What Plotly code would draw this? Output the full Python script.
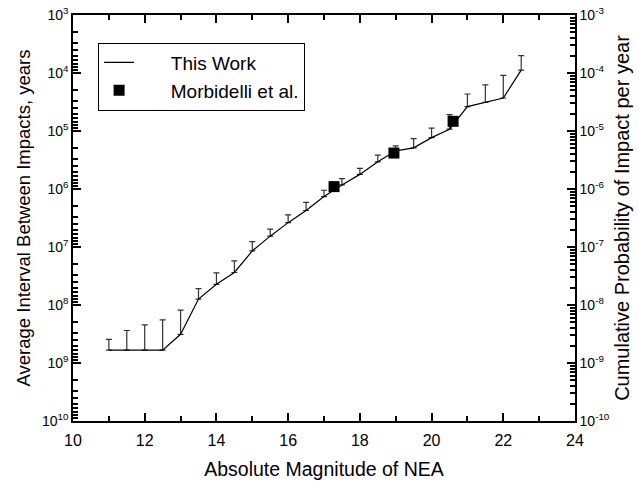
import math
import plotly.graph_objects as go

# Absolute magnitude bins
magnitude = [11, 11.5, 12, 12.5, 13, 13.5, 14, 14.5, 15, 15.5, 16, 16.5,
             17, 17.5, 18, 18.5, 19, 19.5, 20, 20.5, 21, 21.5, 22, 22.5]
# Average interval between impacts (years), "This Work"
interval = [6.0e8, 6.0e8, 6.0e8, 6.0e8, 3.2e8, 7.9e7, 4.4e7, 2.75e7, 1.17e7, 6.5e6,
            3.8e6, 2.35e6, 1.35e6, 8.5e5, 5.6e5, 3.4e5, 2.2e5, 1.95e5, 1.3e5, 9.3e4,
            3.8e4, 3.2e4, 2.7e4, 8.9e3]
# Upper end of the error bar (shorter interval), years
interval_err_end = [3.9e8, 2.75e8, 2.2e8, 1.8e8, 1.23e8, 5.2e7, 2.8e7, 1.74e7, 8.1e6, 4.9e6,
                    2.8e6, 1.7e6, 1.05e6, 6.6e5, 4.4e5, 2.6e5, 1.8e5, 1.35e5, 8.9e4, 5.2e4,
                    2.3e4, 1.6e4, 1.1e4, 5.0e3]
# Morbidelli et al.
morb_mag = [17.28, 18.95, 20.6]
morb_interval = [9.1e5, 2.4e5, 6.8e4]

left_exps = [3, 4, 5, 6, 7, 8, 9, 10]
right_exps = [-10, -9, -8, -7, -6, -5, -4, -3]
x_ticks = [10, 12, 14, 16, 18, 20, 22, 24]
x_minor_ticks = [11, 13, 15, 17, 19, 21, 23]

left_major = [10.0 ** e for e in left_exps]
left_text = ["10<sup>%d</sup>" % e for e in left_exps]
right_major = [10.0 ** e for e in right_exps]
right_text = ["10<sup>%d</sup>" % e for e in right_exps]

# minor tick positions in decades (for linear helper axes spanning the same decades)
left_minor_pos = [e + math.log10(m) for e in left_exps[:-1] for m in range(2, 10)]
right_minor_pos = [e + math.log10(m) for e in right_exps[:-1] for m in range(2, 10)]

err_minus = [a - b for a, b in zip(interval, interval_err_end)]
err_plus = [0] * len(interval)

FONT = "Liberation Sans, Arial, sans-serif"
NB = "\u00a0"

fig = go.Figure()
fig.add_trace(go.Scatter(
    x=magnitude, y=interval, mode="lines", name=NB * 6 + "This Work",
    line=dict(color="black", width=1.2),
    error_y=dict(type="data", symmetric=False, array=err_plus, arrayminus=err_minus,
                 color="#333333", thickness=1.2, width=3),
))
fig.add_trace(go.Scatter(
    x=morb_mag, y=morb_interval, mode="markers", name=NB * 6 + "Morbidelli et al.",
    marker=dict(symbol="square", size=11, color="black"),
))
for ax, yv in (("y2", [1e-10, 1e-3]), ("y3", [3, 10]), ("y4", [-10, -3])):
    fig.add_trace(go.Scatter(
        x=[10, 24], y=yv, yaxis=ax, mode="markers",
        marker=dict(opacity=0), showlegend=False, hoverinfo="skip",
    ))

common = dict(showline=True, linecolor="black", linewidth=1.5, showgrid=False,
              zeroline=False, tickcolor="black", automargin=False)

fig.update_layout(
    width=639, height=482,
    margin=dict(l=73, r=64, t=15, b=61),
    paper_bgcolor="white", plot_bgcolor="white",
    font=dict(family=FONT, color="black", size=14),
    showlegend=True,
    legend=dict(x=0.05, y=0.932, xanchor="left", yanchor="top",
                bordercolor="black", borderwidth=1, bgcolor="white",
                font=dict(size=19, family=FONT), tracegroupgap=0),
    xaxis=dict(range=[10, 24], tickvals=x_ticks, ticks="inside", ticklen=8,
               tickwidth=1.5, mirror="ticks", tickfont=dict(size=16),
               ticklabelstandoff=4,
               minor=dict(tickmode="array", tickvals=x_minor_ticks, ticks="inside",
                          ticklen=5, tickwidth=1.5, tickcolor="black"),
               title=dict(text="Absolute Magnitude of NEA", font=dict(size=19.5),
                          standoff=14), **common),
    yaxis=dict(type="log", range=[10, 3], tickmode="array", tickvals=left_major,
               ticktext=left_text, ticks="inside", ticklen=8, tickwidth=1.6,
               tickfont=dict(size=14),
               title=dict(text="Average Interval Between Impacts, years",
                          font=dict(size=18.5), standoff=6), **common),
    yaxis3=dict(type="linear", range=[10, 3], overlaying="y", side="left", anchor="x",
                tickmode="array", tickvals=left_minor_pos, ticks="inside", ticklen=5,
                tickwidth=1.5, showticklabels=False, **common),
    yaxis2=dict(type="log", range=[-10, -3], overlaying="y", side="right", anchor="x",
                tickmode="array", tickvals=right_major, ticktext=right_text,
                ticks="inside", ticklen=8, tickwidth=1.6, tickfont=dict(size=14),
                title=dict(text="Cumulative Probability of Impact per year",
                           font=dict(size=20), standoff=6), **common),
    yaxis4=dict(type="linear", range=[-10, -3], overlaying="y", side="right", anchor="x",
                tickmode="array", tickvals=right_minor_pos, ticks="inside", ticklen=5,
                tickwidth=1.5, showticklabels=False, **common),
)

fig.write_html("out.html")
